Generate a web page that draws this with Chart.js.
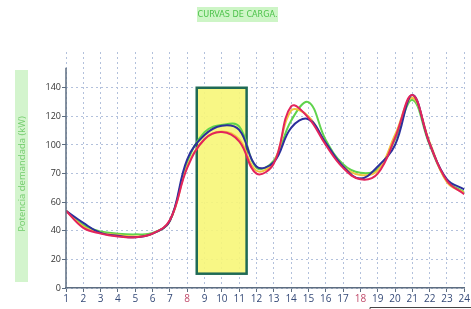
<!DOCTYPE html>
<html><head><meta charset="utf-8">
<script src="https://cdn.jsdelivr.net/npm/chart.js@4/dist/chart.umd.min.js"></script>
<style>html,body{margin:0;padding:0;background:#fff}#wrap{width:471px;height:309px}</style>
</head><body><div id="wrap"><canvas id="c" width="471" height="309"></canvas></div>
<script>
const hours = [1,2,3,4,5,6,7,8,9,10,11,12,13,14,15,16,17,18,19,20,21,22,23,24];
const seriesRed    = [54, 42, 38, 36, 35.5, 38, 47.5, 84, 104, 109, 102.5, 80, 87, 127, 119, 100, 84, 76, 80, 105, 135, 101, 75, 65.5];
const seriesBlue   = [54, 45.5, 38.5, 36.5, 35.5, 38, 47, 90, 107, 113.5, 110.5, 85, 88, 112, 118, 101.5, 85, 76.5, 85, 100, 135, 101, 76, 69];
const seriesGreen  = [54, 44, 39.5, 38, 37.5, 38.5, 47, 88, 109, 114, 113, 84, 89, 117, 130, 103.5, 86.5, 80.5, 83, 104, 131.5, 100, 75, 67];
const seriesYellow = [54, 43, 38.5, 37, 36, 38, 47, 85, 104, 109.5, 104, 82, 88, 124, 120, 101, 85, 79, 82, 107, 133, 102, 74, 66.5];
const yTickValues = [0, 20, 40, 60, 80, 100, 120, 140];
const yTickLabels = ['0', '20', '40', '60', '70', '100', '120', '140'];
const highlightX = [8.55, 11.43];
const highlightY = [10, 140];
const titleText = 'CURVAS DE CARGA.';
const yAxisTitle = 'Potencia demandada (kW)';

const deco = {
  id: 'deco',
  beforeDraw(chart) {
    const ctx = chart.ctx;
    ctx.save();
    ctx.fillStyle = '#fff';
    ctx.fillRect(0, 0, chart.width, chart.height);
    ctx.fillStyle = '#cdf5c6';
    ctx.fillRect(197, 7, 81, 15);
    ctx.fillStyle = '#4cc24a';
    ctx.font = '9px "DejaVu Sans Condensed", "Liberation Sans Narrow", "Roboto", sans-serif';
    ctx.textAlign = 'center';
    ctx.textBaseline = 'middle';
    ctx.fillText(titleText, 237.5, 15);
    ctx.fillStyle = '#d3f4cd';
    ctx.fillRect(15, 70, 13, 212);
    ctx.translate(22, 174);
    ctx.rotate(-Math.PI / 2);
    ctx.fillStyle = '#72cc6c';
    ctx.font = '9.5px "Open Sans", "Roboto", sans-serif';
    ctx.fillText(yAxisTitle, 0, 0);
    ctx.restore();
  },
  beforeDatasetsDraw(chart) {
    const ctx = chart.ctx, xs = chart.scales.x, ys = chart.scales.y;
    const l = xs.getPixelForValue(highlightX[0]), r = xs.getPixelForValue(highlightX[1]);
    const t = ys.getPixelForValue(highlightY[1]), b = ys.getPixelForValue(highlightY[0]);
    ctx.save();
    ctx.fillStyle = 'rgba(247,246,120,0.9)';
    ctx.fillRect(l, t, r - l, b - t);
    ctx.strokeStyle = '#1f6a55';
    ctx.lineWidth = 2.5;
    ctx.strokeRect(l, t, r - l, b - t);
    ctx.restore();
  },
  afterDraw(chart) {
    const ctx = chart.ctx, xs = chart.scales.x, ys = chart.scales.y;
    ctx.save();
    ctx.strokeStyle = '#5d6d80';
    ctx.lineWidth = 1.5;
    ctx.beginPath();
    ctx.moveTo(xs.left, ys.getPixelForValue(154));
    ctx.lineTo(xs.left, ys.bottom);
    ctx.stroke();
    ctx.strokeStyle = '#444';
    ctx.lineWidth = 1;
    ctx.beginPath();
    ctx.moveTo(370, 309);
    ctx.lineTo(370, 307.5);
    ctx.lineTo(471, 307.5);
    ctx.stroke();
    ctx.restore();
  }
};

function ds(data, color) {
  return { data: data, borderColor: color, borderWidth: 2, pointRadius: 0, tension: 0.4, fill: false };
}

new Chart(document.getElementById('c'), {
  type: 'line',
  data: {
    labels: hours,
    datasets: [
      ds(seriesRed, '#e3245c'),
      ds(seriesBlue, '#2c2f9c'),
      ds(seriesYellow, '#f2c23e'),
      ds(seriesGreen, '#5fd34c')
    ]
  },
  options: {
    responsive: false,
    animation: false,
    events: [],
    layout: { padding: { left: 0, right: 6, top: 52, bottom: 0 } },
    plugins: { legend: { display: false }, tooltip: { enabled: false }, title: { display: false } },
    scales: {
      x: {
        type: 'linear', min: 1, max: 24,
        afterBuildTicks(s) { s.ticks = hours.map(v => ({ value: v })); },
        afterFit(s) { s.height = 21; },
        ticks: {
          autoSkip: false, maxRotation: 0, padding: 1,
          callback: v => String(v),
          color: ctx => (ctx.tick && (ctx.tick.value === 8 || ctx.tick.value === 18)) ? '#c04a6a' : '#354a78',
          font: { size: 10, family: '"Open Sans", "Roboto", sans-serif' }
        },
        grid: { color: '#b3c1dc', lineWidth: 1, drawTicks: true, tickLength: 4, tickColor: '#5d6d80', tickWidth: 1 },
        border: { display: true, color: '#5d6d80', width: 1.5, dash: [2, 3] }
      },
      y: {
        type: 'linear', min: 0, max: 165,
        afterBuildTicks(s) { s.ticks = yTickValues.map(v => ({ value: v })); },
        afterFit(s) { s.width = 66; },
        ticks: {
          padding: 1,
          callback: (v) => { const i = yTickValues.indexOf(v); return i >= 0 ? yTickLabels[i] : ''; },
          color: '#333',
          font: { size: 9, family: '"Open Sans", "Roboto", sans-serif' }
        },
        grid: { color: '#b3c1dc', lineWidth: 1, drawTicks: true, tickLength: 4, tickColor: '#5d6d80', tickWidth: 1 },
        border: { display: false, dash: [2, 3] }
      }
    }
  },
  plugins: [deco]
});
</script></body></html>
